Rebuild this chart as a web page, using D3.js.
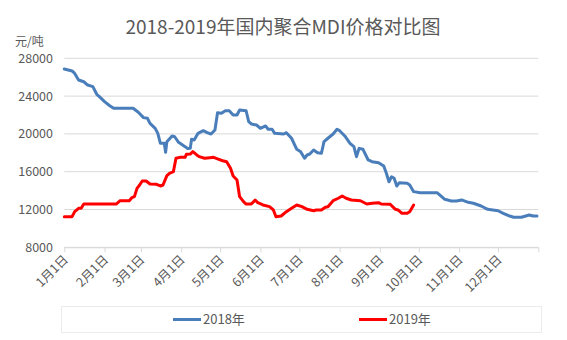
<!DOCTYPE html>
<html><head><meta charset="utf-8">
<script src="https://cdn.jsdelivr.net/npm/d3@7"></script>
<style>
body{margin:0;background:#fff;}
text{font-family:"Noto Sans CJK SC","Noto Sans",sans-serif;}
</style></head>
<body><svg id="c" width="567" height="340"></svg>
<script>
const title = "2018-2019年国内聚合MDI价格对比图";
const unitLabel = "元/吨";
const seriesNames = ["2018年", "2019年"];
const yTicks = [8000, 12000, 16000, 20000, 24000, 28000];
const monthLabels = ["1月1日","2月1日","3月1日","4月1日","5月1日","6月1日","7月1日","8月1日","9月1日","10月1日","11月1日","12月1日"];

const dates2018 = ["01-01","01-07","01-09","01-12","01-16","01-19","01-23","01-26","01-28","02-01","02-05","02-08","02-23","02-27","03-03","03-06","03-08","03-12","03-14","03-16","03-19","03-20","03-21","03-25","03-27","03-30","04-04","04-06","04-08","04-09","04-11","04-14","04-18","04-21","04-24","04-27","04-29","05-02","05-05","05-08","05-11","05-14","05-16","05-21","05-23","05-25","05-29","06-01","06-05","06-07","06-10","06-12","06-19","06-21","06-25","06-29","07-02","07-05","07-07","07-09","07-12","07-15","07-18","07-20","07-23","07-27","07-30","08-01","08-05","08-09","08-12","08-14","08-16","08-19","08-23","08-26","08-31","09-04","09-06","09-08","09-10","09-12","09-14","09-16","09-22","09-24","09-27","10-02","10-15","10-21","10-26","10-30","11-03","11-08","11-12","11-18","11-23","12-01","12-05","12-10","12-13","12-19","12-25","12-28","12-31"];
const values2018 = [26870,26660,26400,25700,25520,25170,25000,24190,23940,23410,22980,22710,22710,22290,21720,21650,21120,20590,20060,19000,19000,18050,19180,19780,19700,19110,18650,18450,18470,19430,19350,20060,20340,20130,19990,20410,22240,22180,22450,22450,22000,22000,22530,22450,21290,21050,20940,20590,20840,20490,20490,20060,19990,20130,19540,18370,18120,17420,17770,17870,18300,18010,17950,19180,19540,19990,20490,20340,19780,19000,18650,17590,18470,18370,17240,17060,16950,16600,15830,14940,15470,15300,14490,14840,14770,14590,13890,13780,13780,13080,12900,12900,13010,12760,12660,12370,12020,11870,11600,11310,11180,11180,11420,11310,11310];

const dates2019 = ["01-01","01-07","01-09","01-12","01-14","01-16","02-10","02-13","02-20","02-22","02-24","02-26","02-28","03-02","03-05","03-08","03-13","03-16","03-18","03-21","03-23","03-26","03-28","03-31","04-04","04-05","04-08","04-10","04-13","04-15","04-19","04-23","04-26","04-30","05-03","05-06","05-09","05-11","05-14","05-16","05-19","05-21","05-25","05-28","05-30","06-03","06-08","06-11","06-13","06-17","06-21","06-25","06-29","07-03","07-07","07-12","07-14","07-18","07-21","07-23","07-27","07-31","08-03","08-06","08-10","08-17","08-22","08-26","08-31","09-02","09-09","09-13","09-15","09-18","09-22","09-24","09-27"];
const values2019 = [11240,11240,11770,12130,12130,12580,12580,12930,12930,13250,13360,14240,14590,15020,15020,14700,14670,14490,14590,15580,15830,16000,17420,17520,17520,17840,17870,18120,17770,17590,17420,17480,17520,17310,17160,17060,16360,15540,15120,13360,12830,12580,12580,13000,12720,12480,12300,11950,11240,11310,11770,12130,12480,12300,12020,11870,11950,11950,12240,12300,12930,13190,13430,13190,13010,12930,12580,12660,12720,12580,12550,12020,11950,11600,11600,11770,12480];

const colors = ["#4a7ebb", "#ff0000"];
const parse = d3.timeParse("%Y-%m-%d");
const toPts = (ds, vs) => ds.map((d, i) => ({date: parse("2018-" + d), value: vs[i]}));
const series = [toPts(dates2018, values2018), toPts(dates2019, values2019)];

const svg = d3.select("#c");
const x = d3.scaleTime().domain([parse("2018-01-01"), parse("2019-01-01")]).range([64.3, 538.3]);
const y = d3.scaleLinear().domain([8000, 28000]).range([247.3, 58.3]);

// title
svg.append("text").attr("x", 283).attr("y", 34).attr("text-anchor", "middle")
  .attr("font-size", 19).attr("fill", "#595959").text(title);
svg.append("text").attr("x", 15).attr("y", 46).attr("font-size", 12).attr("fill", "#595959").text(unitLabel);

// grid
svg.append("g").selectAll("line").data(yTicks).join("line")
  .attr("x1", 64.3).attr("x2", 538.3).attr("y1", d => y(d)).attr("y2", d => y(d))
  .attr("stroke", "#d9d9d9").attr("stroke-width", 1);

// y labels
svg.append("g").selectAll("text").data(yTicks).join("text")
  .attr("x", 53).attr("y", d => y(d) + 4.5).attr("text-anchor", "end")
  .attr("font-size", 12.5).attr("fill", "#595959").text(d => d);

// x axis
const tickDates = d3.timeMonth.range(parse("2018-01-01"), parse("2019-01-02"));
const xAxis = d3.axisBottom(x).tickValues(tickDates).tickSize(5).tickSizeOuter(0)
  .tickFormat((d, i) => monthLabels[i] || "");
const gx = svg.append("g").attr("transform", "translate(0,247.3)").call(xAxis);
gx.select(".domain").attr("stroke", "#d9d9d9");
gx.selectAll(".tick line").attr("stroke", "#d9d9d9");
gx.selectAll(".tick text").attr("font-size", 12.5).attr("fill", "#595959")
  .attr("font-family", "\"Noto Sans CJK SC\",sans-serif")
  .attr("text-anchor", "end").attr("dy", null).attr("y", 0).attr("x", 0)
  .attr("transform", "translate(4,13) rotate(-45)");

// lines
const line = d3.line().x(d => x(d.date)).y(d => y(d.value));
svg.append("g").selectAll("path").data(series).join("path")
  .attr("d", line).attr("fill", "none")
  .attr("stroke", (d, i) => colors[i]).attr("stroke-width", 3)
  .attr("stroke-linejoin", "round").attr("stroke-linecap", "round");

// legend
svg.append("rect").attr("x", 61.5).attr("y", 306.5).attr("width", 480).attr("height", 26)
  .attr("fill", "#fff").attr("stroke", "#ececec");
const legX = [173, 359];
const lg = svg.append("g").selectAll("g").data(seriesNames).join("g")
  .attr("transform", (d, i) => `translate(${legX[i]},319.5)`);
lg.append("line").attr("x1", 0).attr("x2", 28).attr("stroke", (d, i) => colors[i]).attr("stroke-width", 3);
lg.append("text").attr("x", 30).attr("y", 4.5).attr("font-size", 13).attr("fill", "#595959").text(d => d);
</script>
</body></html>
